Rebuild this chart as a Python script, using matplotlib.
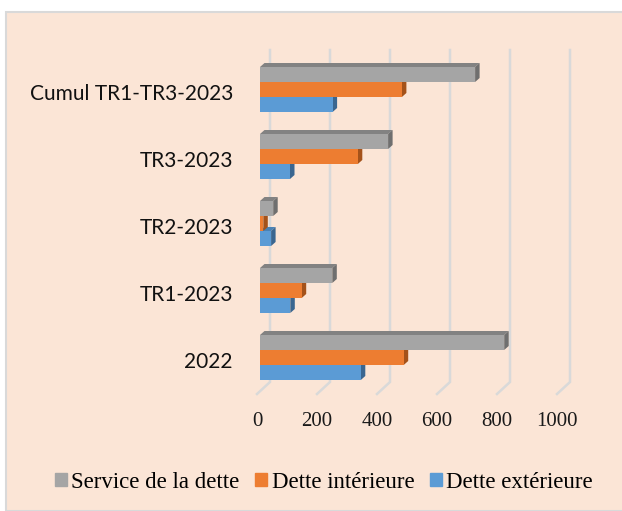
"""Excel-style 3D clustered bar chart: dette publique."""
import matplotlib.pyplot as plt
from matplotlib.patches import Polygon, Rectangle

categories = ["2022", "TR1-2023", "TR2-2023", "TR3-2023", "Cumul TR1-TR3-2023"]
series_names = ["Service de la dette", "Dette intérieure", "Dette extérieure"]
service = [814, 241, 44, 427, 717]
interieure = [479, 139, 11, 326, 473]
exterieure = [336, 101, 37, 100, 242]
xticks = [0, 200, 400, 600, 800, 1000]

W, H = 622, 511
fig = plt.figure(figsize=(W / 100, H / 100), dpi=100)
fig.patch.set_facecolor("white")
fig.add_artist(Rectangle((6 / W, 0), 1, (H - 12) / H, transform=fig.transFigure,
                         facecolor="#fbe5d6", edgecolor="#d9d9d9", lw=1.5, zorder=0))

# axes: data 0 -> x px 260, 0.3 px per unit; y=0 -> y px 357.5, 67 px per category
px_x0, scale_x = 260, 0.3
left_px, right_px = 240, 600
top_px, bot_px = 40, 400
ax = fig.add_axes([left_px / W, (H - bot_px) / H, (right_px - left_px) / W,
                   (bot_px - top_px) / H])
ax.set_xlim((left_px - px_x0) / scale_x, (right_px - px_x0) / scale_x)
ax.set_ylim((357.5 - bot_px) / 67, (357.5 - top_px) / 67)
ax.axis("off")

ux = 1 / scale_x   # data units per pixel (x)
uy = 1 / 67        # data units per pixel (y)

# back wall gridlines with their floor stub
for v in xticks:
    ax.plot([v + 10 * ux, v + 10 * ux, v - 3 * ux],
            [(357.5 - 50) * uy, (357.5 - 382) * uy, (357.5 - 394) * uy],
            color="#d9d9d9", lw=1.8, zorder=1, solid_joinstyle="miter")
    ax.text(v - 3 * ux, (357.5 - 421) * uy, str(v), ha="center", va="center",
            fontsize=15, family="Liberation Serif", color="#1a1a1a")

bh = 15 * uy
dx, dy = 4.5 * ux, 4 * uy
styles = [  # front, top, side
    ("#a5a5a5", "#828282", "#6f6f6f"),
    ("#ed7d31", "#c8621d", "#a4521a"),
    ("#5b9bd5", "#4a82b5", "#3a6690"),
]
offsets = [bh, 0, -bh]
all_vals = [service, interieure, exterieure]

for i, cat in enumerate(categories):
    # draw bottom series first so upper bars cover hidden faces
    for s in [2, 1, 0]:
        v = all_vals[s][i]
        yc = i + offsets[s]
        y0, y1 = yc - bh / 2, yc + bh / 2
        front, top, side = styles[s]
        ax.add_patch(Polygon([(0, y1), (v, y1), (v + dx, y1 + dy), (dx, y1 + dy)],
                             closed=True, facecolor=top, edgecolor="none", zorder=2))
        ax.add_patch(Polygon([(v, y0), (v + dx, y0 + dy), (v + dx, y1 + dy), (v, y1)],
                             closed=True, facecolor=side, edgecolor="none", zorder=2))
        ax.barh(yc, v, height=bh, left=0, color=front, zorder=3)
    ax.text(-27 * ux, i - 4.5 * uy, cat, ha="right", va="center", fontsize=15,
            family="Lato", color="#111111")

# legend
handles = [Rectangle((0, 0), 1, 1, color=styles[s][0]) for s in range(3)]
fig.legend(handles, series_names, loc="center", bbox_to_anchor=(324 / W, 1 - 482 / H),
           ncol=3, frameon=False, handlelength=0.5, handleheight=0.5,
           handletextpad=0.2, columnspacing=0.7,
           prop={"family": "Liberation Serif", "size": 16.5})

fig.savefig("out.png", dpi=100)
